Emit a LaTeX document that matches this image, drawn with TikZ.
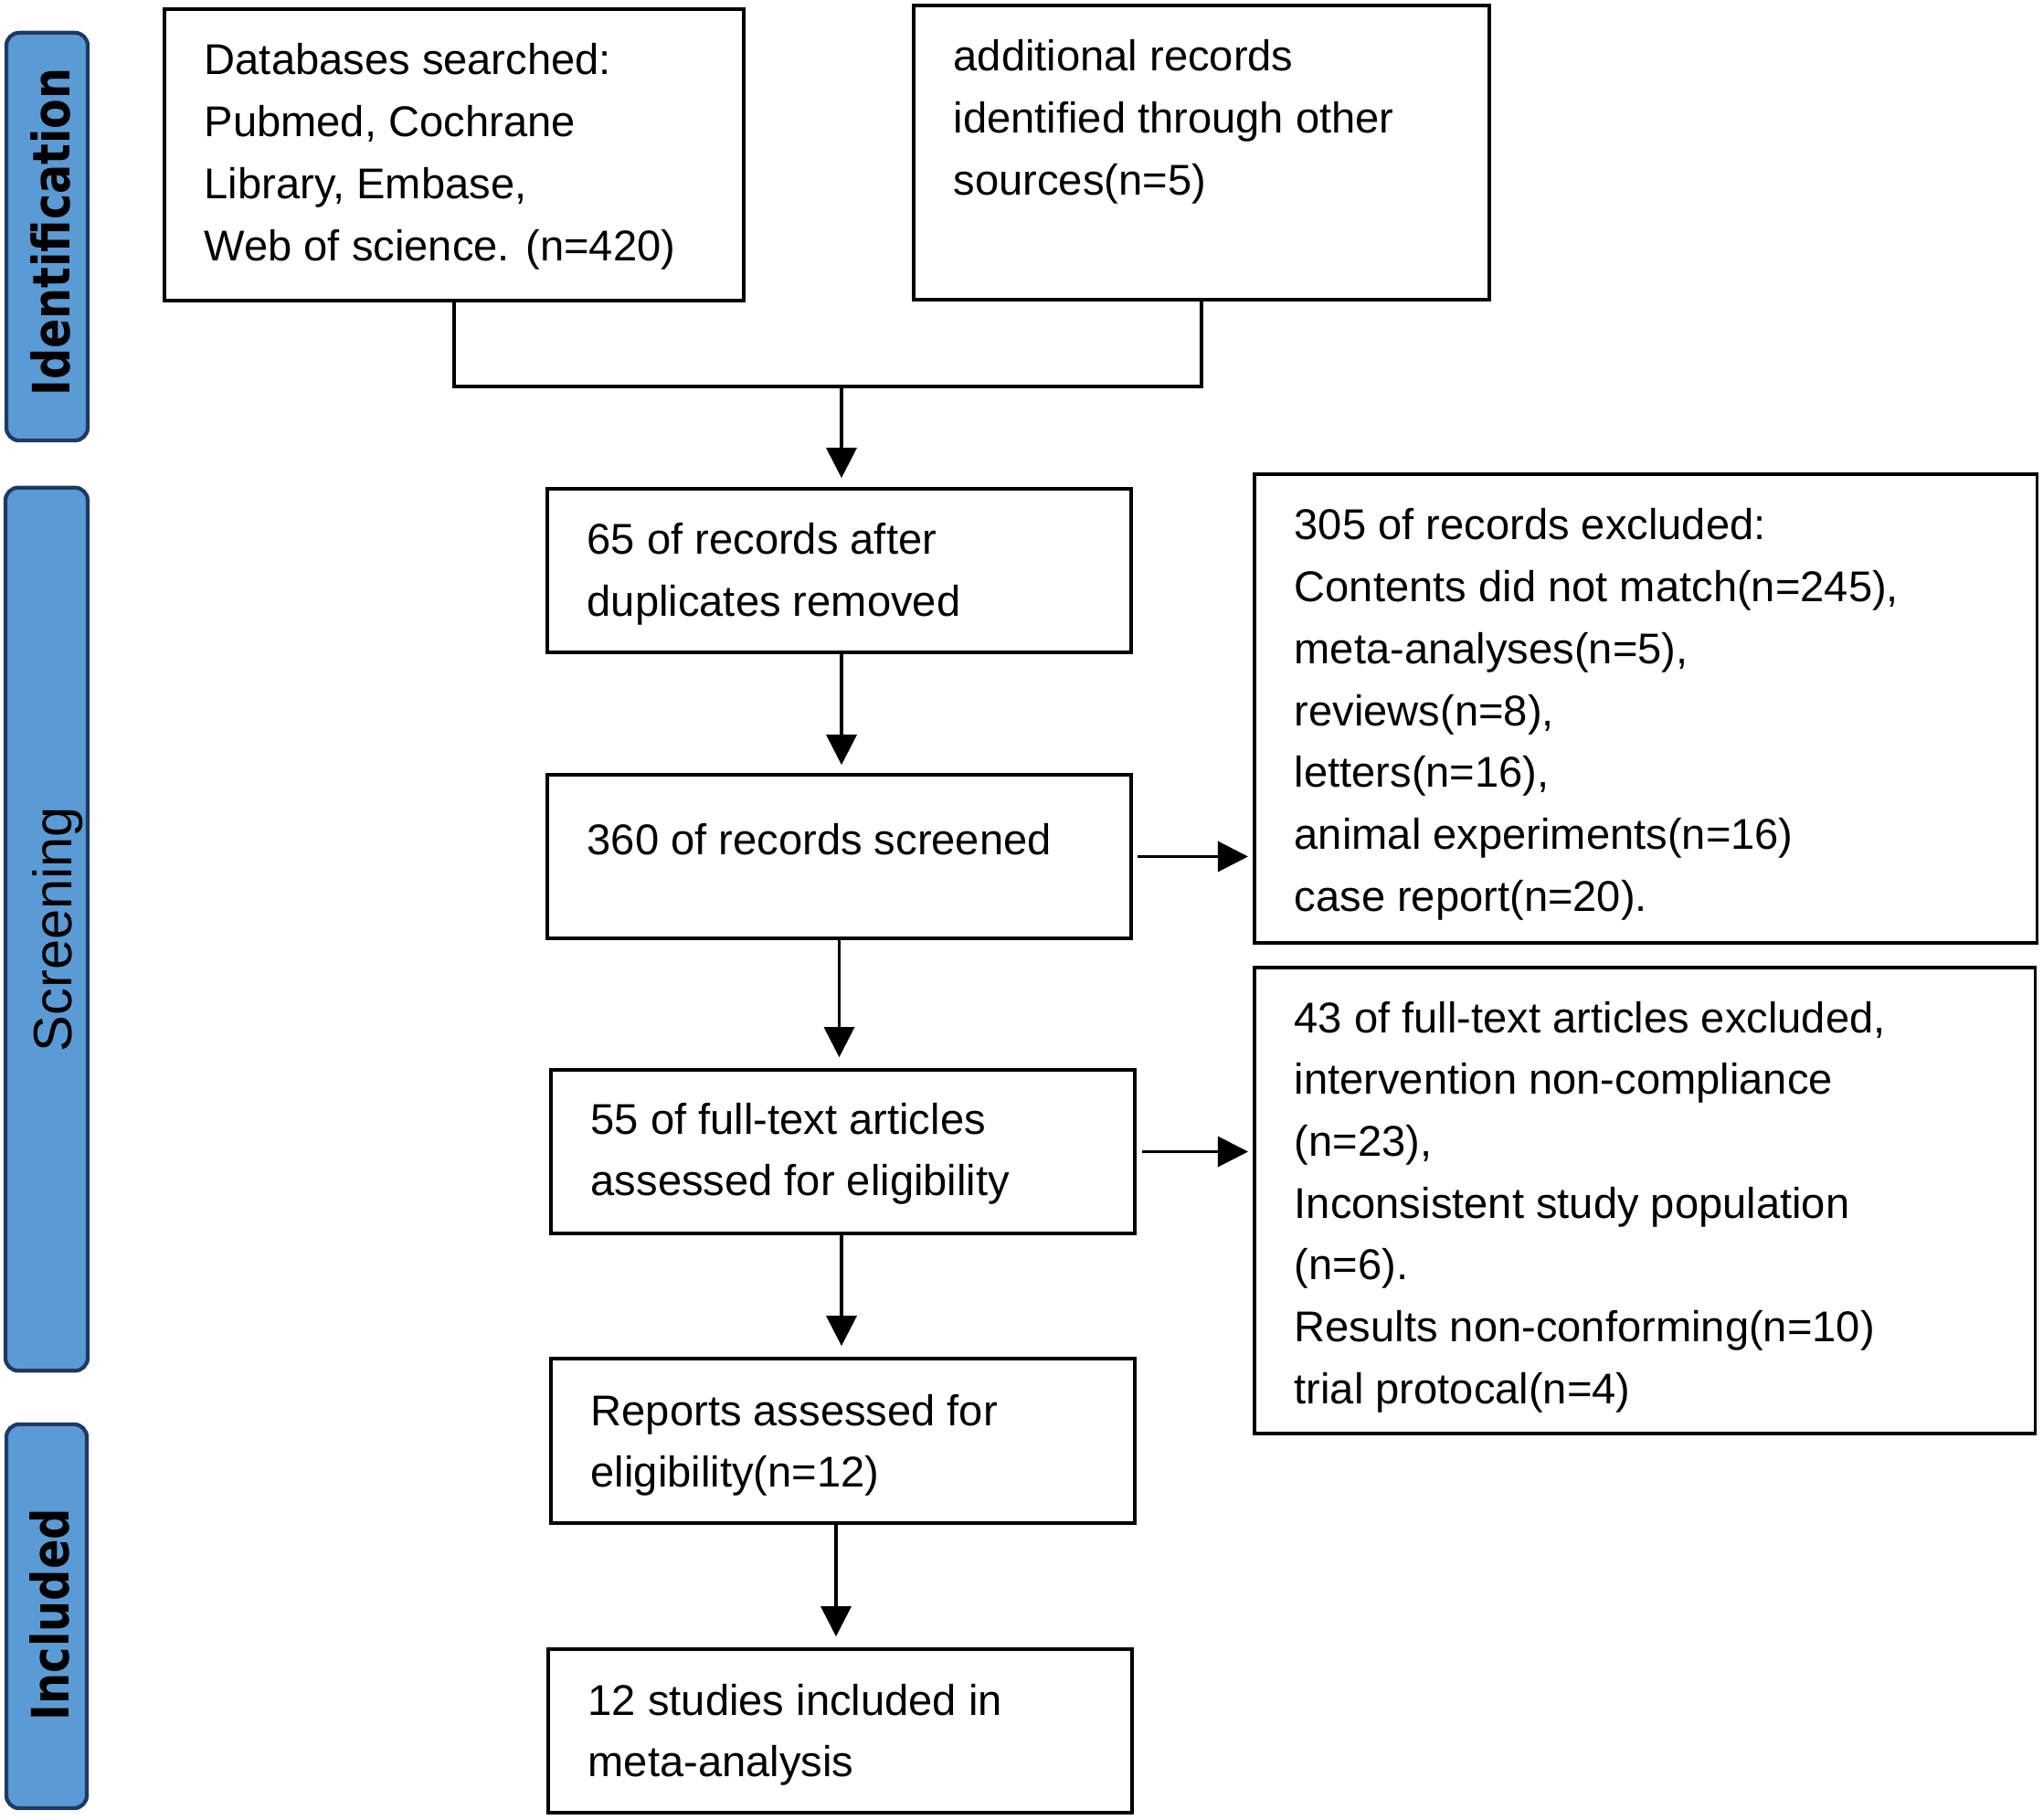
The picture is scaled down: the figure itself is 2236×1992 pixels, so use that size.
\documentclass[tikz,border=0pt]{standalone}
\usepackage{fontspec}
\setmainfont{Liberation Sans}
\newfontfamily\sidefont{DejaVu Sans}
\usetikzlibrary{arrows.meta}
\definecolor{barfill}{RGB}{91,155,213}
\definecolor{barline}{RGB}{31,56,100}
\begin{document}
\begin{tikzpicture}[x=0.01cm, y=-0.01cm,
  box/.style={draw, line width=1pt, inner sep=0pt, rectangle},
  txt/.style={inner sep=0pt, anchor=base west, font=\fontsize{13.4}{19.26}\selectfont},
  bar/.style={draw=barline, fill=barfill, line width=1.2pt, rounded corners=4pt, inner sep=0pt},
  sidelabel/.style={rotate=90, anchor=base, inner sep=0pt},
  link/.style={line width=0.9pt},
  arr/.style={link, -{Triangle[width=9.4pt,length=9.4pt]}}]
\useasboundingbox (0,0) rectangle (2236,1992);

% phase bars
\node[bar, minimum width=0.89cm, minimum height=4.46cm] (s1) at (51.5,259) {};
\node[bar, minimum width=0.90cm, minimum height=9.66cm] (s2) at (51,1017) {};
\node[bar, minimum width=0.88cm, minimum height=4.20cm] (s3) at (51,1769) {};
\node[sidelabel] (l1) at (77,254) {\resizebox{102pt}{12.2pt}{\sidefont\bfseries Identification}};
\node[sidelabel] (l2) at (78,1017) {\resizebox{76.3pt}{12.2pt}{Screening}};
\node[sidelabel] (l3) at (76,1767) {\resizebox{66pt}{12.2pt}{\sidefont\bfseries Included}};

% boxes
\node[box, minimum width=6.34cm, minimum height=3.19cm] (b1) at (497,169.5) {};
\node[box, minimum width=6.30cm, minimum height=3.22cm] (b2) at (1315,167) {};
\node[box, minimum width=6.39cm, minimum height=1.79cm] (b3) at (918.5,624.5) {};
\node[box, minimum width=6.39cm, minimum height=1.79cm] (b4) at (918.5,937.5) {};
\node[box, minimum width=8.56cm, minimum height=5.13cm] (b5) at (1801,775.5) {};
\node[box, minimum width=6.39cm, minimum height=1.79cm] (b6) at (922.5,1260.5) {};
\node[box, minimum width=8.54cm, minimum height=5.10cm] (b7) at (1800,1314) {};
\node[box, minimum width=6.39cm, minimum height=1.80cm] (b8) at (922.5,1577) {};
\node[box, minimum width=6.39cm, minimum height=1.79cm] (b9) at (919.5,1894.5) {};

% texts
\node[txt] (t1) at (223,82) {\vtop{\hbox{Databases searched:}\hbox{Pubmed, Cochrane}\hbox{Library, Embase,}\hbox{Web of science. (n=420)}}};
\node[txt] (t2) at (1043,78) {\vtop{\hbox{additional records}\hbox{identified through other}\hbox{sources(n=5)}}};
\node[txt] (t3) at (642,607) {\vtop{\hbox{65 of records after}\hbox{duplicates removed}}};
\node[txt] (t4) at (642,936) {360 of records screened};
\node[txt] (t5) at (1416,591) {\vtop{\hbox{305 of records excluded:}\hbox{Contents did not match(n=245),}\hbox{meta-analyses(n=5),}\hbox{reviews(n=8),}\hbox{letters(n=16),}\hbox{animal experiments(n=16)}\hbox{case report(n=20).}}};
\node[txt] (t6) at (646,1241) {\vtop{\hbox{55 of full-text articles}\hbox{assessed for eligibility}}};
\node[txt] (t7) at (1416,1130) {\vtop{\hbox{43 of full-text articles excluded,}\hbox{intervention non-compliance}\hbox{(n=23),}\hbox{Inconsistent study population}\hbox{(n=6).}\hbox{Results non-conforming(n=10)}\hbox{trial protocal(n=4)}}};
\node[txt] (t8) at (646,1560) {\vtop{\hbox{Reports assessed for}\hbox{eligibility(n=12)}}};
\node[txt] (t9) at (643,1877) {\vtop{\hbox{12 studies included in}\hbox{meta-analysis}}};

% connectors
\coordinate (m) at (921,423);
\coordinate (k) at (915,1700);
\draw[link] (b1.south) -- (b1.south |- m) -- (b2.south |- m) -- (b2.south);
\draw[arr, shorten >=0.1cm] (m) -- (m |- b3.north);
\draw[arr, shorten >=0.09cm] (m |- b3.south) -- (m |- b4.north);
\draw[arr, shorten >=0.05cm, shorten <=0.05cm] (b4.east) -- (b4.east -| b5.west);
\draw[arr, shorten >=0.12cm] (b4.south) -- (b4.south |- b6.north);
\draw[arr, shorten >=0.05cm, shorten <=0.06cm] (b6.east) -- (b6.east -| b7.west);
\draw[arr, shorten >=0.12cm] (m |- b6.south) -- (m |- b8.north);
\draw[arr, shorten >=0.12cm] (k |- b8.south) -- (k |- b9.north);
\end{tikzpicture}
\end{document}
